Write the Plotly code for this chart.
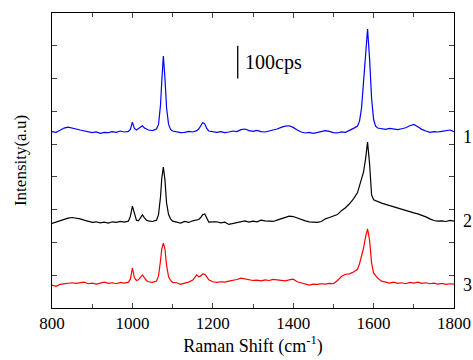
import plotly.graph_objects as go

raman_shift = [800, 810, 820, 830, 840, 850, 860, 870, 880, 890, 900, 910, 920, 930, 940, 950, 960, 970, 980, 990,
               995, 1000, 1005, 1010, 1015, 1020, 1025, 1030, 1035, 1040, 1050, 1060, 1065, 1070, 1073, 1077, 1081, 1085, 1090, 1095, 1100,
               1110, 1120, 1130, 1140, 1150, 1160, 1165, 1170, 1175, 1180, 1185, 1190, 1200,
               1210, 1220, 1230, 1240, 1250, 1260, 1270, 1280, 1290, 1300, 1310, 1320, 1330, 1340, 1350, 1360, 1370, 1380, 1390, 1400,
               1410, 1420, 1430, 1440, 1450, 1460, 1470, 1480, 1490, 1500, 1510, 1520, 1530, 1540,
               1550, 1560, 1565, 1570, 1575, 1580, 1585, 1590, 1595, 1600, 1605, 1610,
               1620, 1630, 1640, 1650, 1660, 1670, 1680, 1690, 1700, 1710, 1720, 1730, 1740, 1750, 1760, 1770, 1780, 1790, 1800]

spectrum_1 = [538, 536, 542, 549, 552, 548, 546, 543, 541, 538, 535, 537, 533, 536, 535, 538, 536, 540, 537, 539,
              545, 567, 548, 543, 547, 552, 556, 549, 545, 543, 541, 546, 560, 620, 690, 769, 700, 610, 560, 545, 540,
              537, 535, 536, 539, 537, 541, 546, 556, 566, 562, 548, 540, 537,
              536, 538, 535, 537, 540, 538, 544, 546, 541, 539, 542, 538, 537, 540, 542, 546, 551, 555, 556, 551,
              543, 537, 534, 536, 533, 535, 538, 541, 539, 535, 534, 537, 536, 541,
              548, 555, 570, 610, 690, 790, 851, 760, 640, 575, 555, 549,
              547, 545, 548, 546, 544, 547, 550, 556, 560, 553, 545, 540, 536, 538, 537, 539, 541, 543, 538]

spectrum_2 = [258, 262, 266, 271, 274, 276, 275, 272, 268, 264, 261, 263, 260, 262, 259, 263, 261, 264, 262, 265,
              280, 311, 285, 268, 266, 274, 284, 275, 268, 266, 264, 268, 285, 340, 395, 430, 390, 320, 285, 272, 265,
              262, 259, 264, 261, 266, 268, 270, 276, 285, 287, 276, 262, 263,
              263, 260, 262, 255, 258, 261, 264, 266, 262, 265, 263, 268, 266, 265, 264, 268, 272, 275, 280, 279,
              274, 270, 266, 263, 262, 261, 264, 272, 276, 280, 285, 297, 306, 318,
              333, 352, 372, 392, 415, 455, 506, 440, 345, 330, 327, 324,
              320, 316, 312, 308, 305, 301, 298, 294, 290, 287, 283, 278, 272, 267, 265, 266, 264, 267, 265]

spectrum_3 = [70, 66, 72, 74, 75, 77, 75, 76, 79, 74, 76, 73, 77, 79, 75, 77, 74, 78, 76, 79,
              88, 122, 92, 84, 86, 94, 101, 92, 84, 80, 78, 82, 98, 145, 180, 198, 180, 130, 95, 84, 78,
              77, 72, 76, 79, 85, 101, 95, 98, 104, 103, 95, 86, 80,
              78, 80, 79, 82, 84, 87, 91, 88, 86, 84, 85, 83, 86, 84, 87, 85, 84, 83, 86, 88,
              80, 76, 72, 70, 73, 72, 74, 73, 75, 74, 84, 96, 103, 104,
              110, 118, 135, 156, 183, 217, 241, 207, 137, 107, 97, 91,
              82, 78, 76, 79, 75, 77, 74, 78, 76, 79, 75, 77, 74, 76, 73, 75, 72, 74, 73]

series_names = ["1", "2", "3"]
series_colors = ["#0000ff", "#000000", "#ff0000"]
label_levels = [521, 265, 70]

x_ticks = [800, 1000, 1200, 1400, 1600, 1800]
scale_bar_x = 1262
scale_bar_bottom = 700
scale_bar_length = 100
scale_bar_text = "100cps"

FONT = "Liberation Serif"

fig = go.Figure()
for name, ys, col in zip(series_names, [spectrum_1, spectrum_2, spectrum_3], series_colors):
    fig.add_trace(go.Scatter(x=raman_shift, y=ys, mode="lines", name=name,
                             line=dict(color=col, width=1.2), showlegend=False))

for name, lvl in zip(series_names, label_levels):
    fig.add_annotation(x=1.018, xref="paper", y=lvl, yref="y", text=name, showarrow=False,
                       xanchor="left", yanchor="middle", font=dict(family=FONT, size=18, color="black"))

fig.add_shape(type="line", x0=scale_bar_x, x1=scale_bar_x, y0=scale_bar_bottom,
              y1=scale_bar_bottom + scale_bar_length, xref="x", yref="y",
              line=dict(color="black", width=1.3))
fig.add_annotation(x=scale_bar_x + 12, y=scale_bar_bottom + scale_bar_length / 2, xref="x", yref="y",
                   text=scale_bar_text, showarrow=False, xanchor="left", yanchor="middle",
                   font=dict(family=FONT, size=20, color="black"))

fig.update_layout(
    width=473, height=360,
    margin=dict(l=52, r=19, t=13, b=52, autoexpand=False),
    paper_bgcolor="white", plot_bgcolor="white",
    font=dict(family=FONT, size=17, color="black"),
    xaxis=dict(range=[800, 1800], tickvals=x_ticks, ticks="inside", ticklen=5, tickwidth=1,
               showline=True, linecolor="black", linewidth=1, mirror="ticks", showgrid=False, zeroline=False,
               automargin=False,
               minor=dict(ticks="inside", dtick=100, tick0=800, ticklen=4, showgrid=False),
               title=dict(text="Raman Shift (cm<sup>-1</sup>)", standoff=4, font=dict(family=FONT, size=18)),
               tickfont=dict(family=FONT, size=17)),
    yaxis=dict(range=[0, 900], dtick=100, tick0=0, ticks="inside", ticklen=5, tickwidth=1,
               showticklabels=False, showline=True, linecolor="black", linewidth=1, mirror="ticks",
               showgrid=False, zeroline=False, automargin=False,
               title=dict(text="Intensity(a.u)", standoff=20, font=dict(family=FONT, size=17))),
)

fig.write_html("out.html", config={"displayModeBar": False},
               post_script="document.body.style.margin='0';")
